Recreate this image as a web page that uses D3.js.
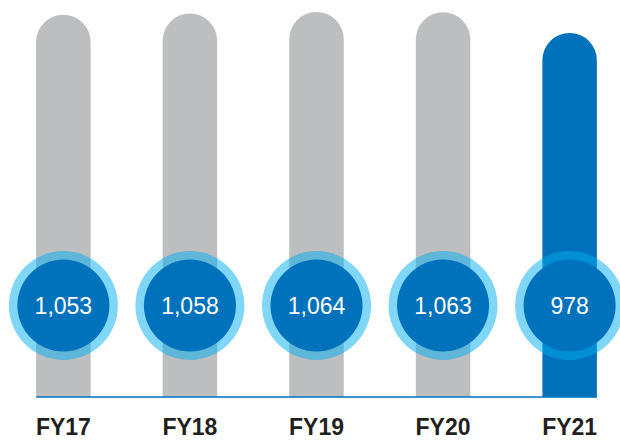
<!DOCTYPE html>
<html lang="en">
<head><meta charset="utf-8">
<title>FY17-FY21</title>
<style>
body { margin: 0; background: #fff; font-family: "Liberation Sans", Arial, sans-serif; }
</style>
</head>
<body>
<svg></svg>
<script src="https://d3js.org/d3.v7.min.js"></script>
<script>

var years = ["FY17", "FY18", "FY19", "FY20", "FY21"];
var values = [1053, 1058, 1064, 1063, 978];
var labels = ["1,053", "1,058", "1,064", "1,063", "978"];

var width = 620, height = 440;
var baseY = 397;

var svg = d3.select("svg")
    .attr("width", width)
    .attr("height", height);

var x = d3.scaleBand()
    .domain(years)
    .range([0, 633])
    .paddingInner(0.5695)
    .paddingOuter(0.2855);

// stylised value axis: the bars do not start at zero
var y = d3.scaleLinear()
    .domain([-518, 1064])
    .range([baseY, 12]);

var bw = x.bandwidth(), r = bw / 2;

function barPath(d, i) {
  var x0 = x(years[i]), x1 = x0 + bw, top = y(d);
  return "M" + x0 + "," + baseY +
    "V" + (top + r) +
    "A" + r + "," + r + " 0 0 1 " + x1 + "," + (top + r) +
    "V" + baseY + "Z";
}

svg.append("g").selectAll("path")
    .data(values)
  .join("path")
    .attr("d", barPath)
    .attr("fill", function(d, i) { return i === values.length - 1 ? "#0071bb" : "#bdbec0"; });

svg.append("line")
    .attr("x1", x(years[0]))
    .attr("x2", x(years[years.length - 1]) + bw)
    .attr("y1", baseY)
    .attr("y2", baseY)
    .attr("stroke", "#0071bb")
    .attr("stroke-width", 1.6);

var cy = 305.5;

var bubbles = svg.append("g").selectAll("g")
    .data(years)
  .join("g")
    .attr("transform", function(d) { return "translate(" + (x(d) + bw / 2) + "," + cy + ")"; });

bubbles.append("circle")
    .attr("r", 54.5)
    .attr("fill", "#00aeef")
    .attr("fill-opacity", 0.5);

bubbles.append("circle")
    .attr("r", 46)
    .attr("fill", "#0071bb");

bubbles.append("text")
    .attr("text-anchor", "middle")
    .attr("dy", "0.35em")
    .attr("fill", "#fff")
    .style("font-size", "23px")
    .text(function(d, i) { return labels[i]; });

svg.append("g").selectAll("text")
    .data(years)
  .join("text")
    .attr("x", function(d) { return x(d) + bw / 2; })
    .attr("y", 435)
    .attr("text-anchor", "middle")
    .attr("fill", "#231f20")
    .style("font-size", "23px")
    .style("font-weight", "bold")
    .text(function(d) { return d; });

</script>
</body>
</html>
